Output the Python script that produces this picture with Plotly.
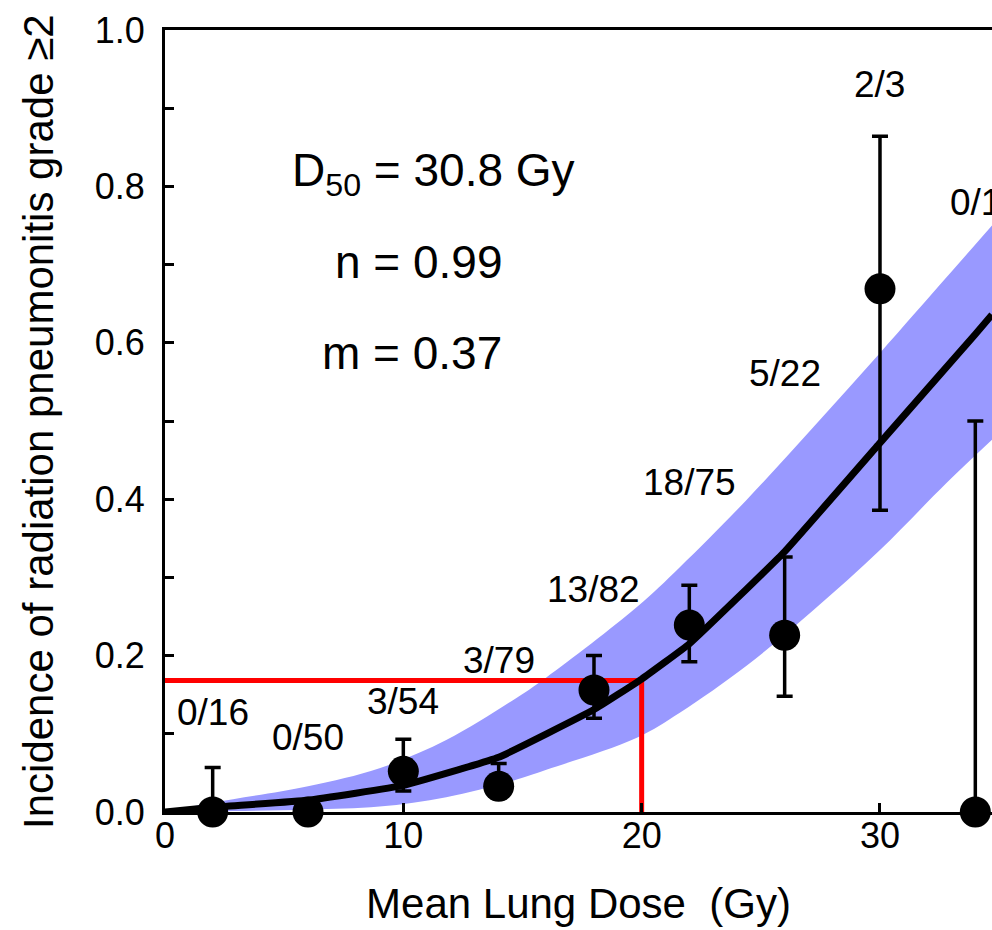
import plotly.graph_objects as go

# ---- data ----
dose = [2, 6, 10, 14, 18, 22, 26, 30, 34]
incidence = [0.0, 0.0, 0.052, 0.033, 0.156, 0.239, 0.226, 0.669, 0.0]
err_plus = [0.057, 0.0, 0.041, 0.029, 0.044, 0.051, 0.100, 0.195, 0.50]
err_minus = [0.0, 0.0, 0.025, 0.015, 0.036, 0.047, 0.078, 0.283, 0.0]
counts = ["0/16", "0/50", "3/54", "3/79", "13/82", "18/75", "5/22", "2/3", "0/1"]
label_y = [0.127, 0.095, 0.141, 0.194, 0.284, 0.422, 0.561, 0.93, 0.78]

curve_x = [0, 2, 6, 10, 14, 18, 20, 22, 26, 30, 34, 34.7]
curve_y = [0.0, 0.006, 0.015, 0.034, 0.070, 0.131, 0.170, 0.215, 0.333, 0.472, 0.611, 0.636]

band_x = [0, 2, 6, 9, 11.8, 14.6, 16, 19.8, 21.6, 24.4, 27.2, 30, 32.8, 34.7]
band_upper = [0.0, 0.012, 0.033, 0.056, 0.092, 0.143, 0.172, 0.262, 0.313, 0.399, 0.492, 0.587, 0.684, 0.75]
band_lower = [0.0, 0.001, 0.003, 0.007, 0.019, 0.040, 0.054, 0.095, 0.127, 0.187, 0.258, 0.335, 0.421, 0.476]

ref_dose = 20
ref_ntcp = 0.168

params = ["D<sub>50</sub> = 30.8 Gy", "n = 0.99", "m = 0.37"]
params_x = [11.25, 10.65, 10.35]
params_y = [0.817, 0.703, 0.587]

FONT = "Liberation Sans, Arial, sans-serif"

fig = go.Figure()

# confidence band
fig.add_trace(go.Scatter(x=band_x, y=band_lower, mode="lines",
                         line=dict(width=0, shape="spline", smoothing=1.0),
                         hoverinfo="skip", showlegend=False))
fig.add_trace(go.Scatter(x=band_x, y=band_upper, mode="lines",
                         line=dict(width=0, shape="spline", smoothing=1.0),
                         fill="tonexty", fillcolor="rgb(153,153,255)",
                         hoverinfo="skip", showlegend=False))

# red reference lines
fig.add_trace(go.Scatter(x=[0, ref_dose, ref_dose], y=[ref_ntcp, ref_ntcp, 0],
                         mode="lines", line=dict(color="#ff0000", width=5),
                         showlegend=False))

# fitted curve
fig.add_trace(go.Scatter(x=curve_x, y=curve_y, mode="lines",
                         line=dict(color="black", width=7, shape="spline", smoothing=0.3),
                         showlegend=False))

# data points with error bars
fig.add_trace(go.Scatter(x=dose, y=incidence, mode="markers",
                         marker=dict(color="black", size=31),
                         error_y=dict(type="data", symmetric=False, array=err_plus,
                                      arrayminus=err_minus, color="black",
                                      thickness=3.5, width=8),
                         showlegend=False, cliponaxis=False))

annotations = []
for xv, yv, t in zip(dose, label_y, counts):
    annotations.append(dict(x=xv, y=yv, xref="x", yref="y", text=t, showarrow=False,
                            xanchor="center", yanchor="middle",
                            font=dict(family=FONT, size=37, color="black")))
for xv, yv, t in zip(params_x, params_y, params):
    annotations.append(dict(x=xv, y=yv, xref="x", yref="y", text=t, showarrow=False,
                            xanchor="center", yanchor="middle",
                            font=dict(family=FONT, size=46, color="black")))
# y-axis title
annotations.append(dict(x=-0.1536, y=0.5, xref="paper", yref="paper",
                        text="Incidence of radiation pneumonitis grade ≥2",
                        textangle=-90, showarrow=False, xanchor="center", yanchor="middle",
                        font=dict(family=FONT, size=42, color="black")))

fig.update_layout(
    width=992, height=930,
    margin=dict(l=165, r=0, t=30, b=118),
    plot_bgcolor="white", paper_bgcolor="white",
    font=dict(family=FONT, color="black"),
    annotations=annotations,
    showlegend=False,
)

fig.update_xaxes(
    range=[0, 34.7], showgrid=False, zeroline=False,
    showline=True, linecolor="black", linewidth=3, mirror=True,
    ticks="inside", ticklen=9, tickwidth=3, tickcolor="black",
    tickvals=[0, 10, 20, 30], ticktext=["0", "10", "20", "30"],
    tickfont=dict(family=FONT, size=36, color="black"),
    ticklabelstandoff=-10,
    title=dict(text="Mean Lung Dose  (Gy)", font=dict(family=FONT, size=42, color="black"),
               standoff=34),
)
fig.update_yaxes(
    range=[0, 1.0], showgrid=False, zeroline=False,
    showline=True, linecolor="black", linewidth=3, mirror=False,
    ticks="inside", ticklen=9, tickwidth=3, tickcolor="black",
    tickvals=[0, 0.2, 0.4, 0.6, 0.8, 1.0], ticktext=["0.0", "0.2", "0.4", "0.6", "0.8", "1.0"],
    minor=dict(tickvals=[0.1, 0.3, 0.5, 0.7, 0.9], ticks="inside", ticklen=9,
               tickwidth=3, tickcolor="black"),
    tickfont=dict(family=FONT, size=36, color="black"),
    ticklabelstandoff=10,
)

fig.write_html("out.html")
